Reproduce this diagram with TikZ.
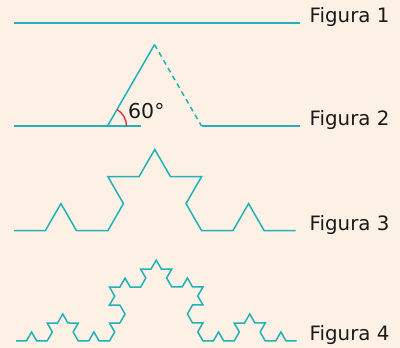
\documentclass[tikz,border=0pt]{standalone}
\usepackage{fontspec}
\setmainfont{DejaVu Sans}
\usepackage{tikz}
\usetikzlibrary{decorations.fractals}
\usepackage{xcolor}
\definecolor{kteal}{RGB}{32,178,184}
\definecolor{kred}{RGB}{232,40,56}
\definecolor{kbg}{RGB}{253,241,230}
\definecolor{ktext}{RGB}{26,26,26}
\tikzset{
  koch/.style={
    draw=kteal, line width=1.5pt
  },
  hidden/.style={
    koch, dash pattern=on 5pt off 4pt
  },
  angarc/.style={
    draw=kred, line width=1.3pt
  },
  figlabel/.style={
    anchor=base west, inner sep=0pt, text=ktext,
    font=\fontsize{19.8}{23}\selectfont
  }
}

\begin{document}
\begin{tikzpicture}[x=1pt, y=1pt, decoration=Koch snowflake]

    \useasboundingbox[fill=kbg] (0,0) rectangle (400,348);

    %% ---- Figura 1: the segment ------------------------------------
    \coordinate (a1) at (14,325);
    \coordinate (b1) at (300,325);
    \draw[koch] (a1) -- (b1);
    \node[figlabel] (f1) at (309.5,325) {Figura 1};

    %% ---- Figura 2: middle third raised ----------------------------
    \coordinate (a2) at (14,222);
    \coordinate (e2) at (141,222);
    \coordinate (p2) at (107.5,222);
    \coordinate (t2) at (154.5,303.4);
    \coordinate (q2) at (201.5,222);
    \coordinate (b2) at (300,222);

    \draw[koch] (a2) -- (e2);
    \draw[koch] (p2) -- (t2);
    \draw[hidden] (t2) -- (q2);
    \draw[koch] (q2) -- (b2);
    \draw[angarc] (p2) ++(19,0) arc[start angle=0, end angle=60, radius=19];

    \node[figlabel, font=\fontsize{20.5}{24}\selectfont]
      (ang) at (128,229.7) {60°};
    \node[figlabel] (f2) at (309.5,222) {Figura 2};

    %% ---- Figura 3: second step ------------------------------------
    \coordinate (a3) at (14,117.3);
    \coordinate (b3) at (295.5,117.3);
    \draw[koch] decorate{ decorate{ (a3) -- (b3) } };
    \node[figlabel] (f3) at (309.5,117.5) {Figura 3};

    %% ---- Figura 4: third step -------------------------------------
    \coordinate (a4) at (16,7);
    \coordinate (b4) at (296.5,7);
    \draw[koch] decorate{ decorate{ decorate{ (a4) -- (b4) } } };
    \node[figlabel] (f4) at (309.5,7.3) {Figura 4};

\end{tikzpicture}
\end{document}
